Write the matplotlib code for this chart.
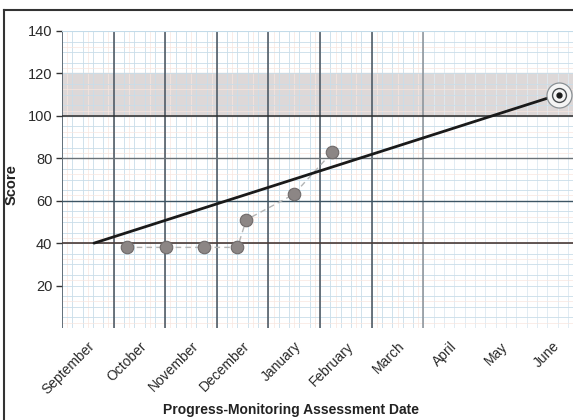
import numpy as np
import matplotlib
matplotlib.use("Agg")
import matplotlib.pyplot as plt
import matplotlib.transforms as mtransforms
from matplotlib.lines import Line2D

plt.rcParams['font.family'] = ['Liberation Sans', 'DejaVu Sans']

# month labels on the x axis (September = 0)
months = ['September', 'October', 'November', 'December', 'January',
          'February', 'March', 'April', 'May', 'June']

# progress-monitoring scores and when they were taken (in months after September)
score_dates = [0.64, 1.39, 2.13, 2.78, 2.95, 3.87, 4.62]
scores = [38, 38, 38, 38, 51, 63, 83]

# aim line from baseline to goal
aim_dates = [0, 9]
aim_scores = [40, 110]

# shaded goal range
goal_band = [100, 120]

y_ticks = [20, 40, 60, 80, 100, 120, 140]

fig = plt.figure(figsize=(5.73, 4.20), dpi=100)
ax = fig.add_axes([62 / 573, 1 - 328 / 420, 1 - 62 / 573, (328 - 31) / 420])

x_lo, x_hi = -0.62, 9.28
ax.set_xlim(x_lo, x_hi)
ax.set_ylim(0, 140)

# goal range band
ax.axhspan(goal_band[0], goal_band[1], color='#ddd8d8', zorder=0)

# graph paper: light minor lines
for xv in np.arange(x_lo, x_hi, 0.2):
    col = '#dde9f1' if xv > 6.4 else '#c9dde9'
    ax.axvline(xv, color=col, lw=0.6, zorder=1)
for xv in np.arange(x_lo + 0.1, 6.4, 0.4):
    ax.axvline(xv, color='#f8e6df', lw=0.5, zorder=1)
for yv in np.arange(0, 141, 5):
    ax.axhline(yv, color='#c9dde9', lw=0.6, zorder=1)
for yv in np.arange(2.5, 140, 10):
    ax.axhline(yv, color='#f8e6df', lw=0.5, zorder=1)

# heavier vertical lines (stop at April)
for xv in np.arange(x_lo, 6.5, 1.0):
    col = '#8a9096' if xv > 6 else '#46505a'
    ax.axvline(xv, color=col, lw=1.1, zorder=2)

# heavier horizontal lines
ax.axhline(100, color='#2b2b2b', lw=1.1, zorder=2)
ax.axhline(80, color='#6b7277', lw=1.0, zorder=2)
ax.axhline(60, color='#3d5564', lw=1.0, zorder=2)
ax.axhline(40, color='#4a3a36', lw=1.2, zorder=2)
ax.axhline(140, color='#c3dbe9', lw=0.8, zorder=2)

# scores connected by dashed line
ax.plot(score_dates, scores, color='#b3b4b4', lw=1.0, ls=(0, (4, 3)), zorder=3)
ax.plot(score_dates, scores, 'o', ms=9, mfc='#8c8685', mec='#6f6a6a', mew=0.8,
        zorder=5, ls='none')

# aim line
ax.plot(aim_dates, aim_scores, color='#1a1a1a', lw=2.0, zorder=4,
        solid_capstyle='round')

# goal target marker
ax.plot(aim_dates[-1], aim_scores[-1], 'o', ms=18, mfc='#f4f4f4', mec='#8a9094',
        mew=0.9, zorder=6)
ax.plot(aim_dates[-1], aim_scores[-1], 'o', ms=10, mfc='#f4f4f4', mec='#4b4f52',
        mew=1.0, zorder=7)
ax.plot(aim_dates[-1], aim_scores[-1], 'o', ms=3.5, mfc='#1a1a1a', mec='#1a1a1a',
        zorder=8)

ax.set_xticks(range(len(months)))
ax.set_xticklabels(months, rotation=45, ha='right', rotation_mode='anchor',
                   fontsize=10, color='#2a2a2a')
ax.tick_params(axis='x', length=0, pad=8)
# nudge month labels a little to the left
shift = mtransforms.ScaledTranslation(-6 / 100, 0, fig.dpi_scale_trans)
for lab in ax.get_xticklabels():
    lab.set_transform(lab.get_transform() + shift)
ax.set_yticks(y_ticks)
ax.set_yticklabels([str(v) for v in y_ticks], fontsize=10.5, color='#2a2a2a')
ax.tick_params(axis='y', length=4, width=1, color='#333333', pad=3)

for s in ['top', 'right', 'bottom', 'left']:
    ax.spines[s].set_visible(False)

fig.text(12 / 573, 1 - 185 / 420, 'Score', rotation=90, ha='center',
         va='center', fontsize=10.5, fontweight='bold', color='#222222')
fig.text(0.507, 1 - 410 / 420, 'Progress-Monitoring Assessment Date',
         ha='center', va='center', fontsize=10, fontweight='bold',
         color='#222222')

# outer frame
fig.add_artist(Line2D([4 / 573, 4 / 573], [0, 1 - 10 / 420],
                      transform=fig.transFigure, color='#333333', lw=1.5))
fig.add_artist(Line2D([4 / 573, 1], [1 - 10 / 420, 1 - 10 / 420],
                      transform=fig.transFigure, color='#333333', lw=1.5))

fig.savefig('out.png', dpi=100)
